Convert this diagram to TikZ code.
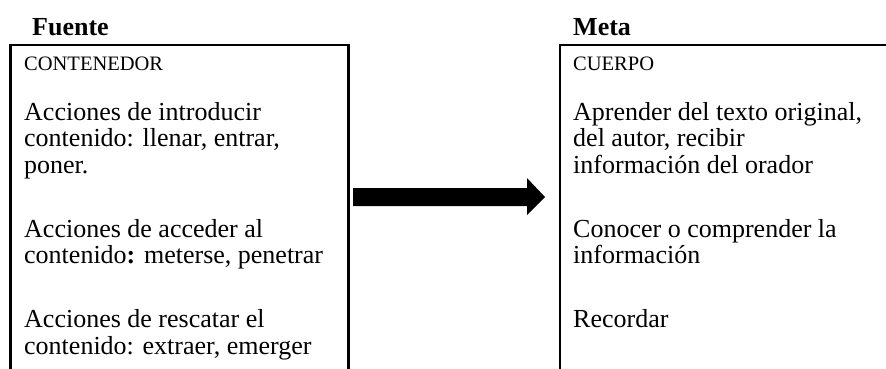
\documentclass[tikz,border=0pt]{standalone}
\usepackage{fontspec}
\setmainfont{Liberation Serif}
\begin{document}
\begin{tikzpicture}[x=1pt,y=-1pt,
  body/.style={anchor=base west,inner sep=0pt,font=\fontsize{26}{30}\selectfont},
  smallcap/.style={anchor=base west,inner sep=0pt,font=\fontsize{20.5}{24}\selectfont},
  ttl/.style={anchor=base west,inner sep=0pt,font=\fontsize{26}{30}\selectfont\bfseries},
  frame/.style={line width=2.2pt},
  bigarrow/.style={fill=black}]
\useasboundingbox (0,0) rectangle (886,368);
\begin{scope}
\clip (0,0) rectangle (886,368);
% titles
\node[ttl] (fuente) at (32,35) {Fuente};
\node[ttl] (meta) at (573,35) {Meta};
% frames
\coordinate (lb1) at (10.5,380);
\coordinate (lt1) at (10.5,44.7);
\coordinate (lt2) at (348.5,44.7);
\coordinate (lb2) at (348.5,380);
\draw[frame] (lb1) -- (lt1) -- (lt2) -- (lb2);
\coordinate (rb1) at (559.7,380);
\coordinate (rt1) at (559.7,44.7);
\coordinate (rt2) at (900,44.7);
\draw[frame] (rb1) -- (rt1) -- (rt2);
% left texts
\node[smallcap] (cont) at (24,70) {CONTENEDOR};
\node[body] (l1) at (24,120) {Acciones de introducir};
\node[body] (l2) at (24,146.6) {contenido: llenar, entrar,};
\node[body] (l3) at (24,173.2) {poner.};
\node[body] (l4) at (24,237.2) {Acciones de acceder al};
\node[body] (l5) at (24,263.8) {contenido\textbf{:} meterse, penetrar};
\node[body] (l6) at (24,327.8) {Acciones de rescatar el};
\node[body] (l7) at (24,354.4) {contenido: extraer, emerger};
% right texts
\node[smallcap] (cuerpo) at (573,70) {CUERPO};
\node[body] (r1) at (573,120) {Aprender del texto original,};
\node[body] (r2) at (573,146.6) {del autor, recibir};
\node[body] (r3) at (573,173.2) {información del orador};
\node[body] (r4) at (573,237.2) {Conocer o comprender la};
\node[body] (r5) at (573,263.8) {información};
\node[body] (r6) at (573,327.8) {Recordar};
% block arrow
\fill[bigarrow] (353,188) -- (527,188) -- (527,178) -- (545,197) -- (527,215) -- (527,206) -- (353,206) -- cycle;
\end{scope}
\end{tikzpicture}
\end{document}
